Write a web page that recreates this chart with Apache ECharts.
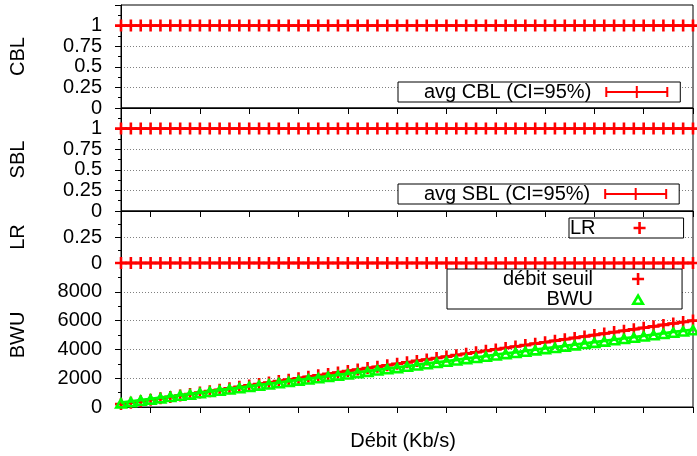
<!DOCTYPE html>
<html><head><meta charset="utf-8">
<script src="https://cdn.jsdelivr.net/npm/echarts@6/dist/echarts.min.js"></script>
<style>html,body{margin:0;padding:0;background:#fff}#c{width:697px;height:456px}</style>
</head><body><div id="c"></div>
<script>
const xValues = [200,300,400,500,600,700,800,900,1000,1100,1200,1300,1400,1500,1600,1700,1800,1900,2000,2100,2200,2300,2400,2500,2600,2700,2800,2900,3000,3100,3200,3300,3400,3500,3600,3700,3800,3900,4000,4100,4200,4300,4400,4500,4600,4700,4800,4900,5000,5100,5200,5300,5400,5500,5600,5700,5800,5900,6000];
const cblValues = [1,1,1,1,1,1,1,1,1,1,1,1,1,1,1,1,1,1,1,1,1,1,1,1,1,1,1,1,1,1,1,1,1,1,1,1,1,1,1,1,1,1,1,1,1,1,1,1,1,1,1,1,1,1,1,1,1,1,1];
const sblValues = [1,1,1,1,1,1,1,1,1,1,1,1,1,1,1,1,1,1,1,1,1,1,1,1,1,1,1,1,1,1,1,1,1,1,1,1,1,1,1,1,1,1,1,1,1,1,1,1,1,1,1,1,1,1,1,1,1,1,1];
const lrValues = [0,0,0,0,0,0,0,0,0,0,0,0,0,0,0,0,0,0,0,0,0,0,0,0,0,0,0,0,0,0,0,0,0,0,0,0,0,0,0,0,0,0,0,0,0,0,0,0,0,0,0,0,0,0,0,0,0,0,0];
const debitSeuilValues = [200,300,400,500,600,700,800,900,1000,1100,1200,1300,1400,1500,1600,1700,1800,1900,2000,2100,2200,2300,2400,2500,2600,2700,2800,2900,3000,3100,3200,3300,3400,3500,3600,3700,3800,3900,4000,4100,4200,4300,4400,4500,4600,4700,4800,4900,5000,5100,5200,5300,5400,5500,5600,5700,5800,5900,6000];
const bwuValues = [300,390,480,560,650,740,830,910,1000,1090,1180,1260,1350,1440,1530,1610,1700,1790,1880,1960,2050,2140,2230,2310,2400,2490,2580,2670,2750,2840,2930,3020,3100,3190,3280,3370,3450,3540,3630,3720,3800,3890,3980,4070,4150,4240,4330,4420,4500,4590,4680,4770,4860,4940,5030,5120,5210,5290,5380];
const xTickValues = [500,1000,1500,2000,2500,3000,3500,4000,4500,5000,5500,6000];
const cblTickLabels = [0,0.25,0.5,0.75,1];
const sblTickLabels = [0,0.25,0.5,0.75,1];
const lrTickLabels = [0,0.25];
const bwuTickLabels = [0,2000,4000,6000,8000];

const FONT = '"Liberation Sans", Arial, Helvetica, sans-serif';
const FS = 20;
const RED = '#ff0000', GREEN = '#00ff00';
const CROSS = 'path://M4.7,0H7.3V4.7H12V7.3H7.3V12H4.7V7.3H0V4.7H4.7Z';
const TRI = 'path://M0,12L7,0L14,12Z M4.53,9.4L9.47,9.4L7,5.16Z';
const ERR = 'path://M0,5H63V7H0Z M0,1H2V11H0Z M61,1H63V11H61Z M30.5,0H32.5V12H30.5Z';

const grids = [
  {left:119, right:4, top:5, height:103},
  {left:119, right:4, top:108, height:103},
  {left:119, right:4, top:211, height:52},
  {left:119, right:4, top:263, height:144}
].map(g => Object.assign(g, {show:true, borderColor:'#000', borderWidth:1, backgroundColor:'transparent'}));

function xAxis(gi, withName) {
  const a = {
    type:'category', gridIndex:gi, data:xValues.map(String), boundaryGap:false,
    axisLine:{show:true, lineStyle:{color:'#000', width:1}},
    axisTick:{show:true, inside:false, length:6, lineStyle:{color:'#000'},
      interval:(i, v) => xTickValues.includes(Number(v))},
    axisLabel:{show:false},
    splitLine:{show:false}
  };
  if (withName) {
    a.name = 'Débit (Kb/s)';
    a.nameLocation = 'middle';
    a.nameGap = 23;
    a.nameTextStyle = {fontSize:FS, fontFamily:FONT, color:'#000', lineHeight:22, padding:[0,8,0,0]};
  }
  return a;
}
function yAxis(gi, name, max, interval, labels) {
  return {
    type:'value', gridIndex:gi, min:0, max:max, interval:interval,
    name:name, nameLocation:'middle', nameGap:93, nameRotate:90,
    nameTextStyle:{fontSize:FS, fontFamily:FONT, color:'#000'},
    axisLine:{show:true, lineStyle:{color:'#000', width:1}},
    axisTick:{show:true, inside:false, length:6, lineStyle:{color:'#000'}},
    minorTick:{show:true, splitNumber:2, length:3, lineStyle:{color:'#000'}},
    splitLine:{show:true, showMinLine:false, showMaxLine:false, lineStyle:{color:'#808080', width:1, type:[1,2]}},
    axisLabel:{fontSize:FS, fontFamily:FONT, color:'#000', margin:19,
      formatter:v => labels.some(t => Math.abs(t - v) < 1e-9) ? String(v) : ''}
  };
}
function lineSeries(name, gi, data, color, symbol, size, z) {
  return {
    name:name, type:'line', xAxisIndex:gi, yAxisIndex:gi, data:data,
    symbol:symbol, symbolSize:size, showSymbol:true, showAllSymbol:true, clip:false, z:z,
    lineStyle:{color:color, width:2.8}, itemStyle:{color:color},
    emphasis:{disabled:true}, animation:false
  };
}
const legendBase = {
  orient:'vertical', align:'right', itemGap:0, selectedMode:false,
  backgroundColor:'#fff', borderColor:'#000', borderWidth:1, borderRadius:0
};
const ts = pr => ({fontSize:FS, fontFamily:FONT, color:'#000', lineHeight:20, padding:[0,pr,0,0]});
const option = {
  backgroundColor:'#fff',
  animation:false,
  grid:grids,
  xAxis:[xAxis(0), xAxis(1), xAxis(2), xAxis(3, true)],
  yAxis:[
    yAxis(0, 'CBL', 1.25, 0.25, cblTickLabels),
    yAxis(1, 'SBL', 1.25, 0.25, sblTickLabels),
    yAxis(2, 'LR', 0.5, 0.25, lrTickLabels),
    yAxis(3, 'BWU', 10000, 2000, bwuTickLabels)
  ],
  legend:[
    Object.assign({}, legendBase, {left:398, top:82, data:[{name:'avg CBL (CI=95%)', icon:ERR}],
      itemWidth:63, itemHeight:12, padding:[0,12,0,26], textStyle:ts(9)}),
    Object.assign({}, legendBase, {left:398, top:184, data:[{name:'avg SBL (CI=95%)', icon:ERR}],
      itemWidth:63, itemHeight:12, padding:[0,12,0,26], textStyle:ts(9)}),
    Object.assign({}, legendBase, {left:569, top:218, data:[{name:'LR', icon:CROSS}],
      itemWidth:12, itemHeight:12, padding:[0,38,0,1], textStyle:ts(33)}),
    Object.assign({}, legendBase, {left:447, top:269, data:[{name:'débit seuil', icon:CROSS}, {name:'BWU', icon:TRI}],
      itemWidth:14, itemHeight:12, padding:[0,37,0,56], textStyle:ts(33)})
  ],
  series:[
    lineSeries('avg CBL (CI=95%)', 0, cblValues, RED, CROSS, 12, 3),
    lineSeries('avg SBL (CI=95%)', 1, sblValues, RED, CROSS, 12, 3),
    lineSeries('LR', 2, lrValues, RED, CROSS, 12, 3),
    lineSeries('débit seuil', 3, debitSeuilValues, RED, CROSS, 12, 3),
    lineSeries('BWU', 3, bwuValues, GREEN, TRI, [14,12], 4)
  ]
};
const chart = echarts.init(document.getElementById('c'), null, {renderer:'canvas'});
chart.setOption(option);
</script>
</body></html>
